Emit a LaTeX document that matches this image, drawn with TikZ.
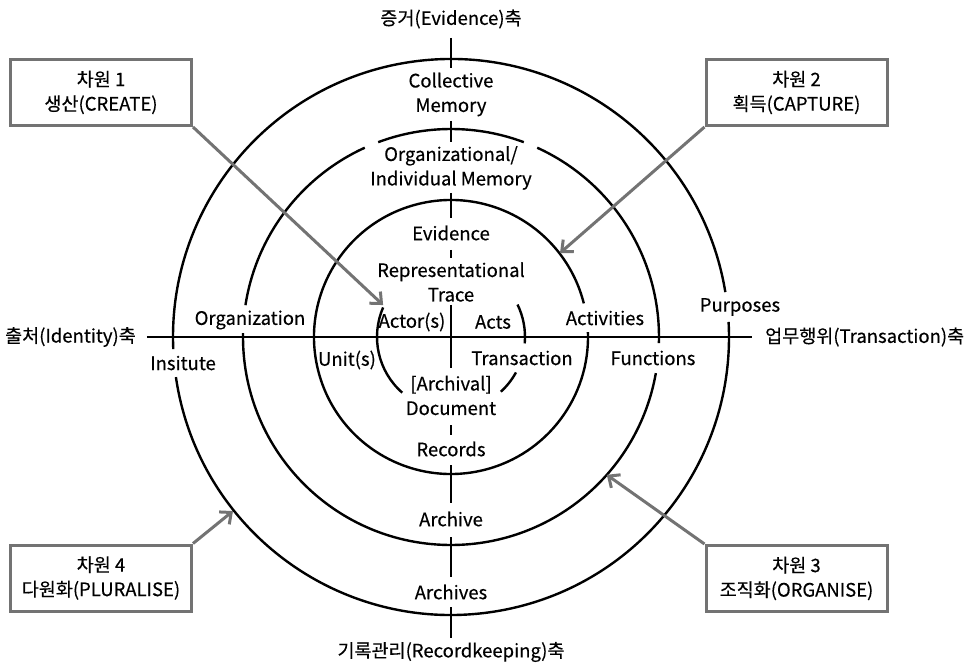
\documentclass[tikz,border=0pt]{standalone}
\usepackage{fontspec}
\setmainfont{Noto Sans CJK KR}[FakeBold=0.4]
\usetikzlibrary{arrows.meta}
\definecolor{boxgray}{gray}{0.45}

\begin{document}
\begin{tikzpicture}[x=1pt, y=1pt, line width=2.4pt,
  lbl/.style={font=\fontsize{18.5}{24.5}\selectfont, align=center, inner sep=1pt},
  dimbox/.style={draw=boxgray, line width=3pt, minimum width=181pt, minimum height=66pt,
    align=center, font=\fontsize{18.5}{24.5}\selectfont},
  dimarrow/.style={draw=boxgray, line width=3pt, -{Straight Barb[length=9pt,width=16pt]}}]
\useasboundingbox (-451,-329) rectangle (517,337);

% outer ring
\draw (9.3:278) arc[start angle=9.3, end angle=182.5, radius=278];
\draw (188.3:278) arc[start angle=188.3, end angle=363.1, radius=278];
% middle ring
\draw (-1.7:208) arc[start angle=-1.7, end angle=65.5, radius=208];
\draw (69.5:208) arc[start angle=69.5, end angle=110.5, radius=208];
\draw (114.5:208) arc[start angle=114.5, end angle=171.2, radius=208];
\draw (178.9:208) arc[start angle=178.9, end angle=350, radius=208];
% inner ring
\draw (14.2:137) arc[start angle=14.2, end angle=362, radius=137];
% centre arcs
\draw (156.5:74) arc[start angle=156.5, end angle=228.8, radius=74];
\draw (26:74) arc[start angle=26, end angle=-5, radius=74];
\draw (-28.6:74) arc[start angle=-28.6, end angle=-47.7, radius=74];

% axes
\draw (-304,0) -- (301,0);
\foreach \a/\b in {299/269, 216/195, 144/119, 87/79, 32/-31, -88/-98, -128/-166, -200/-240, -270/-301}
  \draw (0,\a) -- (0,\b);

% axis names
\node (evaxis) [lbl] at (0,318) {증거(Evidence)축};
\node (rkaxis) [lbl] at (0,-315) {기록관리(Recordkeeping)축};
\node (idaxis) [lbl, anchor=east] at (-313,0) {출처(Identity)축};
\node (traxis) [lbl, anchor=west] at (312,0) {업무행위(Transaction)축};

% vertical labels
\node (collmem) [lbl] at (0,242.5) {Collective\\Memory};
\node (orgmem) [lbl] at (0,169) {Organizational/\\Individual Memory};
\node (evid) [lbl] at (0,104) {Evidence};
\node (trace) [lbl] at (0,55) {Representational\\Trace};
\node (doc) [lbl] at (0,-58.5) {[Archival]\\Document};
\node (recs) [lbl] at (0,-112) {Records};
\node (archive) [lbl] at (0,-182) {Archive};
\node (archives) [lbl] at (0,-255) {Archives};

% side labels
\node (actor) [lbl] at (-39,15) {Actor(s)};
\node (acts) [lbl] at (42,15) {Acts};
\node (unit) [lbl] at (-104,-23) {Unit(s)};
\node (trans) [lbl] at (71,-21) {Transaction};
\node (org) [lbl] at (-201,17) {Organization};
\node (inst) [lbl] at (-268,-26) {Insitute};
\node (activ) [lbl] at (154,19) {Activities};
\node (func) [lbl] at (202,-21) {Functions};
\node (purp) [lbl] at (289,30) {Purposes};

% dimensions
\node (dim1) [dimbox] at (-350,244.5) {차원 1\\생산(CREATE)};
\node (dim2) [dimbox] at (345.5,244.5) {차원 2\\획득(CAPTURE)};
\node (dim3) [dimbox] at (345.5,-241.5) {차원 3\\조직화(ORGANISE)};
\node (dim4) [dimbox] at (-350,-241) {차원 4\\다원화(PLURALISE)};

\coordinate (tip1) at (154.8:75);
\coordinate (tip2) at (37.6:137.6);
\coordinate (tip3) at (-41.5:208);
\coordinate (tip4) at (218.6:279);
\draw [dimarrow] (dim1.south east) -- (tip1);
\draw [dimarrow] (dim2.south west) -- (tip2);
\draw [dimarrow] (dim3.north west) -- (tip3);
\draw [dimarrow] (dim4.north east) -- (tip4);
\end{tikzpicture}
\end{document}
